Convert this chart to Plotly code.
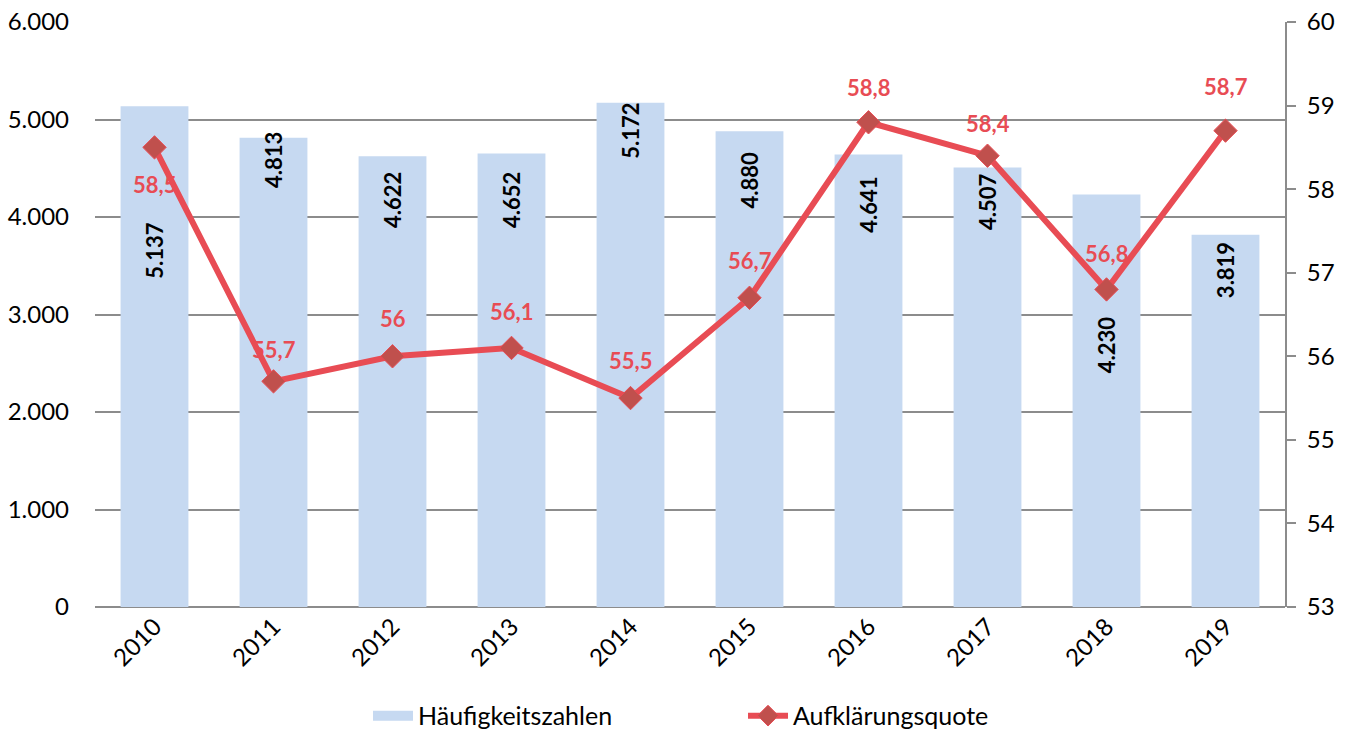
import plotly.graph_objects as go

years = ["2010", "2011", "2012", "2013", "2014", "2015", "2016", "2017", "2018", "2019"]
haeufigkeit = [5137, 4813, 4622, 4652, 5172, 4880, 4641, 4507, 4230, 3819]
quote = [58.5, 55.7, 56.0, 56.1, 55.5, 56.7, 58.8, 58.4, 56.8, 58.7]

# label placement (separate from data)
bar_label_y = [3660, 4580, 4170, 4170, 4880, 4380, 4120, 4160, 2690, 3450]
line_label_shift = [-37, 32, 38, 36, 38, 37, 35, 32, 36, 44]

FONT = "Lato, Carlito, Calibri, sans-serif"
BAR_COLOR = "#C6D9F1"
LINE_COLOR = "#E84C54"
MARKER_COLOR = "#C0504D"
GRID = "#8C8C8C"


def fmt_int(v):
    return f"{v:,}".replace(",", ".")


def fmt_dec(v):
    s = f"{v:.1f}"
    if s.endswith(".0"):
        s = s[:-2]
    return s.replace(".", ",")


fig = go.Figure()
fig.add_trace(go.Bar(
    x=years, y=haeufigkeit, name="Häufigkeitszahlen",
    marker=dict(color=BAR_COLOR, line=dict(width=0)),
    width=0.57, yaxis="y", showlegend=False,
))
# legend stand-in for the bar series (wide flat swatch, like the reference)
fig.add_trace(go.Scatter(
    x=[None], y=[None], name="Häufigkeitszahlen", mode="lines",
    line=dict(color=BAR_COLOR, width=10), yaxis="y", showlegend=True,
))
fig.add_trace(go.Scatter(
    x=years, y=quote, name="Aufklärungsquote", yaxis="y2",
    mode="lines+markers",
    line=dict(color=LINE_COLOR, width=6),
    marker=dict(symbol="diamond", size=18, color=MARKER_COLOR,
                line=dict(color=LINE_COLOR, width=1)),
))

annotations = []
for i, (v, ly) in enumerate(zip(haeufigkeit, bar_label_y)):
    annotations.append(dict(
        x=i, y=ly, xref="x", yref="y", text=f"<b>{fmt_int(v)}</b>",
        textangle=-90, showarrow=False,
        font=dict(family=FONT, size=22, color="black"),
    ))
for i, (v, sh) in enumerate(zip(quote, line_label_shift)):
    annotations.append(dict(
        x=i, y=v, xref="x", yref="y2", text=f"<b>{fmt_dec(v)}</b>",
        yshift=sh, showarrow=False,
        font=dict(family=FONT, size=22, color=LINE_COLOR),
    ))

fig.update_layout(
    width=1351, height=729,
    margin=dict(l=95, r=66, t=22, b=122),
    paper_bgcolor="white", plot_bgcolor="white",
    separators=",.",
    font=dict(family=FONT, size=24, color="black"),
    bargap=0.43,
    showlegend=True,
    legend=dict(orientation="h", xref="container", yref="container",
                x=0.2724, xanchor="left", y=0.018, yanchor="middle",
                font=dict(family=FONT, size=25, color="black"),
                entrywidth=320, itemwidth=40, traceorder="normal"),
    xaxis=dict(
        type="category", range=[-0.5, len(years) - 0.5],
        showgrid=False, tickangle=-45, automargin=False,
        showline=False, ticks="",
        tickfont=dict(family=FONT, size=24, color="black"),
    ),
    yaxis=dict(
        range=[0, 6000], dtick=1000, tickformat=",d", automargin=False,
        showgrid=True, gridcolor=GRID, gridwidth=2,
        zeroline=True, zerolinecolor=GRID, zerolinewidth=2,
        showline=False, ticks="", ticklabelstandoff=25,
        tickfont=dict(family=FONT, size=24, color="black"),
    ),
    yaxis2=dict(
        range=[53, 60], dtick=1, overlaying="y", side="right", automargin=False,
        showgrid=False, zeroline=False,
        showline=True, linecolor=GRID, linewidth=2,
        ticks="outside", ticklen=9, tickwidth=2, tickcolor=GRID,
        ticklabelstandoff=6,
        tickfont=dict(family=FONT, size=24, color="black"),
    ),
    annotations=annotations,
)

fig.write_html(
    "out.html",
    config={"displayModeBar": False},
    post_script="document.body.style.margin='0';document.body.style.overflow='hidden';",
)
